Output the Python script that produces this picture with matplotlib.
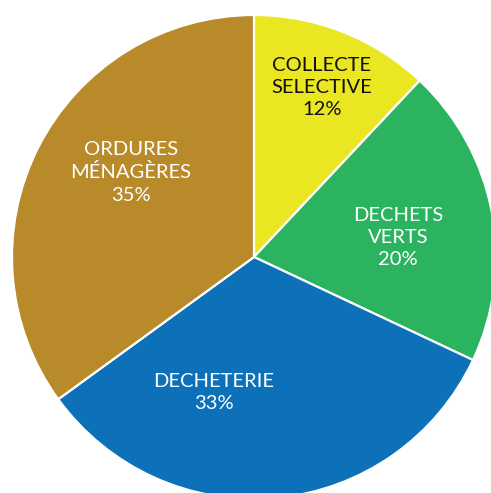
import matplotlib
matplotlib.use("Agg")
import matplotlib.pyplot as plt

# data
categories = ["COLLECTE\nSELECTIVE", "DECHETS\nVERTS", "DECHETERIE", "ORDURES\nMÉNAGÈRES"]
values = [12, 20, 33, 35]
colors = ["#EAE621", "#2BB35F", "#0C71B9", "#B88A2A"]
text_colors = ["#111111", "white", "white", "white"]
# label anchor points, as fractions of the radius
label_pos = [(0.28, 0.70), (0.595, 0.08), (-0.165, -0.56), (-0.51, 0.35)]

plt.rcParams["font.family"] = ["Lato", "DejaVu Sans"]

W, H = 491, 493
fig = plt.figure(figsize=(W / 100, H / 100), dpi=100)
cx, cy, r = 254, 257, 242
ax = fig.add_axes([(cx - r) / W, (H - cy - r) / H, 2 * r / W, 2 * r / H])

ax.pie(values, colors=colors, startangle=90, counterclock=False,
       wedgeprops=dict(edgecolor="white", linewidth=1.6))
ax.set_xlim(-1, 1)
ax.set_ylim(-1, 1)
ax.set_aspect("equal")
ax.axis("off")

for cat, val, tc, (x, y) in zip(categories, values, text_colors, label_pos):
    ax.text(x, y, f"{cat}\n{val}%", ha="center", va="center", color=tc,
            fontsize=14.5, linespacing=1.38)

fig.savefig("out.png", dpi=100)
